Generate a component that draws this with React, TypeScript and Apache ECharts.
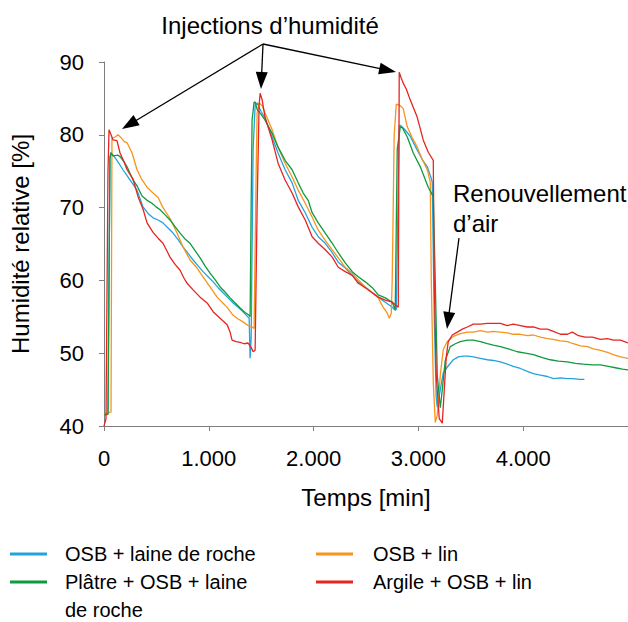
import React, { useEffect, useRef } from "react";
import * as echarts from "echarts";

// Time [min], relative humidity [%]
const osbLaineDeRoche: [number, number][] = [
  [0, 41.6], [38, 41.7], [57, 77.0], [67, 77.6], [124, 76.5], [181, 75.2], [248, 73.8], [315, 72.4],
  [372, 70.1], [420, 69.2], [468, 68.6], [516, 68.3], [563, 67.9], [611, 67.2], [659, 66.5], [707, 65.6],
  [754, 64.6], [802, 63.7], [850, 62.8], [898, 62.0], [945, 61.2], [993, 60.5], [1041, 59.8], [1089, 59.0],
  [1136, 58.3], [1184, 57.6], [1232, 56.9], [1280, 56.3], [1327, 55.7], [1366, 55.1], [1385, 54.8],
  [1394, 49.3], [1404, 52.0], [1423, 78.0], [1442, 84.0], [1461, 84.4], [1499, 83.2], [1537, 82.3],
  [1604, 79.7], [1661, 77.5], [1728, 75.2], [1795, 73.4], [1853, 71.0], [1920, 69.3], [1986, 67.3],
  [2044, 66.0], [2111, 65.1], [2178, 63.8], [2235, 62.5], [2302, 61.7], [2369, 60.7], [2426, 59.8],
  [2493, 59.1], [2560, 58.3], [2617, 57.7], [2684, 57.0], [2751, 56.3], [2779, 55.9], [2789, 56.0],
  [2817, 81.3], [2827, 81.3], [2865, 80.8], [2922, 79.8], [2989, 77.9], [3037, 76.6], [3085, 75.6],
  [3123, 74.0], [3132, 73.5], [3151, 55.0], [3170, 44.0], [3180, 42.6], [3209, 45.0], [3237, 47.3],
  [3276, 48.1], [3333, 49.1], [3381, 49.5], [3428, 49.6], [3476, 49.6], [3524, 49.5], [3591, 49.3],
  [3658, 49.1], [3715, 49.0], [3782, 48.8], [3849, 48.5], [3906, 48.2], [3973, 47.9], [4040, 47.5],
  [4097, 47.2], [4164, 47.0], [4231, 46.8], [4288, 46.5], [4355, 46.6], [4422, 46.5], [4479, 46.5],
  [4536, 46.4], [4584, 46.4],
];

const osbLin: [number, number][] = [
  [0, 41.5], [29, 41.8], [67, 41.9], [76, 79.5], [105, 79.7], [134, 80.0], [163, 79.6], [191, 79.1],
  [220, 78.9], [268, 77.5], [315, 75.2], [363, 73.8], [411, 72.8], [468, 72.0], [516, 71.4], [563, 70.0],
  [630, 68.5], [697, 66.5], [754, 64.6], [821, 62.8], [888, 61.7], [945, 60.5], [1012, 59.1], [1079, 57.7],
  [1127, 57.0], [1175, 56.3], [1232, 55.2], [1280, 54.7], [1327, 54.3], [1375, 53.8], [1413, 53.6],
  [1432, 53.4], [1452, 75.0], [1461, 83.0], [1480, 84.4], [1509, 84.0], [1537, 83.0], [1604, 80.7],
  [1661, 78.3], [1728, 76.1], [1795, 74.2], [1853, 72.4], [1920, 70.6], [1986, 68.7], [2044, 66.9],
  [2111, 65.5], [2178, 64.2], [2235, 63.1], [2302, 61.8], [2369, 61.0], [2426, 60.1], [2493, 59.1],
  [2560, 58.3], [2617, 57.6], [2664, 56.3], [2703, 55.5], [2722, 54.8], [2741, 55.5], [2750, 60.0],
  [2769, 80.0], [2789, 84.2], [2827, 84.0], [2855, 83.6], [2894, 81.1], [2941, 79.6], [2989, 78.3],
  [3037, 76.6], [3085, 75.2], [3113, 73.5], [3123, 60.0], [3142, 46.0], [3161, 40.5], [3180, 41.5],
  [3209, 47.0], [3237, 50.5], [3276, 51.6], [3333, 52.3], [3400, 52.7], [3467, 52.9], [3524, 52.9],
  [3591, 53.1], [3658, 52.9], [3715, 53.0], [3782, 52.9], [3849, 52.8], [3906, 52.6], [3973, 52.6],
  [4040, 52.4], [4097, 52.5], [4164, 52.2], [4231, 52.0], [4288, 51.9], [4355, 51.7], [4422, 51.6],
  [4479, 51.3], [4546, 51.0], [4613, 50.9], [4670, 50.6], [4737, 50.4], [4804, 50.1], [4861, 49.8],
  [4928, 49.5], [5000, 49.3],
];

const platreOsbLaineDeRoche: [number, number][] = [
  [0, 41.5], [38, 41.6], [57, 76.8], [67, 77.5], [86, 77.1], [134, 77.2], [153, 77.0], [191, 76.3],
  [220, 75.6], [277, 73.8], [315, 73.0], [363, 71.6], [411, 71.0], [458, 70.6], [497, 70.1], [535, 69.7],
  [583, 69.0], [630, 68.3], [678, 67.4], [726, 66.5], [773, 65.7], [821, 65.1], [869, 64.1], [917, 63.1],
  [964, 62.0], [1012, 61.0], [1060, 60.1], [1108, 59.1], [1155, 58.4], [1203, 57.6], [1251, 56.9],
  [1299, 56.2], [1346, 55.6], [1385, 55.2], [1394, 55.0], [1404, 70.0], [1413, 82.0], [1432, 84.5],
  [1442, 84.5], [1461, 83.5], [1499, 82.8], [1537, 82.0], [1604, 80.2], [1661, 78.3], [1728, 76.5],
  [1795, 75.2], [1853, 73.4], [1901, 72.0], [1948, 71.0], [1986, 69.3], [2044, 67.9], [2111, 66.5],
  [2178, 65.1], [2235, 63.8], [2302, 62.4], [2369, 61.2], [2426, 60.5], [2493, 59.8], [2560, 59.0],
  [2617, 58.0], [2684, 57.6], [2751, 57.0], [2769, 56.3], [2779, 56.0], [2798, 78.0], [2827, 81.1],
  [2846, 81.0], [2894, 79.7], [2951, 77.5], [3018, 75.6], [3094, 72.8], [3142, 71.5], [3161, 60.0],
  [3180, 47.0], [3209, 42.5], [3228, 45.0], [3256, 49.0], [3304, 50.9], [3352, 51.3], [3400, 51.6],
  [3467, 51.8], [3524, 51.8], [3591, 51.6], [3658, 51.3], [3715, 51.1], [3782, 50.9], [3858, 50.6],
  [3944, 50.2], [4021, 50.0], [4097, 49.8], [4183, 49.4], [4259, 49.1], [4336, 48.9], [4422, 48.8],
  [4498, 48.6], [4574, 48.5], [4660, 48.4], [4737, 48.4], [4813, 48.2], [4880, 48.0], [4947, 47.8],
  [5000, 47.7],
];

const argileOsbLin: [number, number][] = [
  [0, 40.0], [19, 41.0], [38, 75.0], [48, 80.7], [67, 80.0], [86, 79.3], [124, 79.2], [153, 77.5],
  [191, 76.3], [220, 75.2], [277, 73.9], [325, 71.5], [372, 69.8], [411, 67.9], [468, 66.6], [516, 65.8],
  [563, 65.1], [602, 64.0], [630, 63.2], [678, 62.2], [726, 61.4], [764, 60.3], [793, 59.6], [850, 58.7],
  [917, 57.7], [984, 56.9], [1041, 55.7], [1108, 54.8], [1175, 53.9], [1203, 52.9], [1222, 51.8],
  [1261, 51.6], [1299, 51.5], [1337, 51.3], [1375, 51.4], [1404, 50.8], [1423, 50.2], [1442, 50.4],
  [1461, 70.0], [1480, 84.0], [1490, 85.7], [1509, 84.8], [1537, 82.4], [1604, 79.3], [1661, 76.1],
  [1728, 73.8], [1795, 72.0], [1853, 70.1], [1920, 68.3], [1986, 66.0], [2044, 65.1], [2111, 64.2],
  [2178, 63.2], [2235, 61.8], [2302, 61.2], [2369, 60.7], [2426, 59.6], [2493, 59.0], [2560, 58.3],
  [2617, 57.7], [2684, 57.3], [2751, 57.0], [2808, 56.3], [2817, 88.6], [2836, 87.8], [2855, 87.1],
  [2884, 86.3], [2922, 84.8], [2989, 82.4], [3046, 79.3], [3094, 77.6], [3142, 76.5], [3151, 60.0],
  [3170, 47.0], [3199, 41.0], [3228, 40.4], [3247, 45.0], [3266, 49.5], [3285, 51.6], [3323, 52.5],
  [3371, 52.9], [3419, 53.3], [3467, 53.6], [3524, 54.0], [3591, 54.0], [3658, 54.1], [3715, 54.1],
  [3782, 54.1], [3849, 53.8], [3906, 54.0], [3973, 53.8], [4040, 53.6], [4097, 53.6], [4164, 53.3],
  [4231, 53.3], [4288, 53.0], [4355, 52.6], [4422, 52.6], [4469, 52.9], [4527, 52.4], [4593, 52.2],
  [4660, 52.2], [4737, 51.9], [4804, 52.0], [4861, 51.8], [4928, 51.8], [5000, 51.4],
];

const seriesNames = [
  "OSB + laine de roche",
  "OSB + lin",
  "Plâtre + OSB + laine de roche",
  "Argile + OSB + lin",
];
const seriesColors = ["#24a2dd", "#f7941d", "#0f9a3e", "#e52521"];
const seriesData = [osbLaineDeRoche, osbLin, platreOsbLaineDeRoche, argileOsbLin];

const xAxisName = "Temps [min]";
const yAxisName = "Humidité relative [%]";
const injectionLabel = "Injections d’humidité";
const renewalLabel = "Renouvellement\nd’air";

const FONT = "'Liberation Sans', Arial, Helvetica, sans-serif";

function arrow(x1: number, y1: number, x2: number, y2: number, len = 17, hw = 6) {
  const dx = x2 - x1;
  const dy = y2 - y1;
  const L = Math.hypot(dx, dy);
  const ux = dx / L;
  const uy = dy / L;
  const bx = x2 - ux * len;
  const by = y2 - uy * len;
  return [
    {
      type: "line",
      silent: true,
      z: 100,
      shape: { x1, y1, x2: bx + ux * 2, y2: by + uy * 2 },
      style: { stroke: "#000", lineWidth: 1.3 },
    },
    {
      type: "polygon",
      silent: true,
      z: 100,
      shape: {
        points: [
          [x2, y2],
          [bx - uy * hw, by + ux * hw],
          [bx + uy * hw, by - ux * hw],
        ],
      },
      style: { fill: "#000" },
    },
  ];
}

export default function App() {
  const ref = useRef<HTMLDivElement>(null);

  useEffect(() => {
    if (!ref.current) return;
    const chart = echarts.init(ref.current, undefined, { renderer: "svg" });

    const legendText = {
      fontFamily: FONT,
      fontSize: 20,
      color: "#000",
      lineHeight: 28,
    };
    const legendCommon = {
      orient: "vertical",
      padding: 0,
      itemGap: 0,
      itemWidth: 37,
      itemHeight: 3,
      icon: "rect",
      selectedMode: false,
      textStyle: legendText,
    };

    const option: any = {
      animation: false,
      backgroundColor: "#fff",
      textStyle: { fontFamily: FONT },
      grid: { left: 104, right: 0, top: 62, bottom: 196, containLabel: false },
      xAxis: {
        type: "value",
        min: 0,
        max: 5000,
        interval: 1000,
        name: xAxisName,
        nameLocation: "middle",
        nameGap: 59,
        nameTextStyle: { fontFamily: FONT, fontSize: 24, color: "#000" },
        axisLine: { show: true, lineStyle: { color: "#7f7f7f", width: 1 } },
        axisTick: { show: true, length: 5, lineStyle: { color: "#7f7f7f" } },
        splitLine: { show: false },
        axisLabel: {
          fontFamily: FONT,
          fontSize: 22,
          color: "#000",
          margin: 21,
          showMaxLabel: false,
          formatter: (v: number) =>
            v === 0 ? "0" : `${Math.floor(v / 1000)}.${String(v % 1000).padStart(3, "0")}`,
        },
      },
      yAxis: {
        type: "value",
        min: 40,
        max: 90,
        interval: 10,
        name: yAxisName,
        nameLocation: "middle",
        nameGap: 72,
        nameTextStyle: { fontFamily: FONT, fontSize: 24, color: "#000" },
        axisLine: { show: true, lineStyle: { color: "#7f7f7f", width: 1 } },
        axisTick: { show: true, length: 5, lineStyle: { color: "#7f7f7f" } },
        splitLine: { show: false },
        axisLabel: { fontFamily: FONT, fontSize: 22, color: "#000", margin: 20 },
      },
      legend: [
        {
          ...legendCommon,
          left: 10,
          top: 540,
          data: [{ name: seriesNames[0], textStyle: { padding: [0, 0, 0, 13] } }],
        },
        {
          ...legendCommon,
          left: 10,
          top: 540,
          formatter: (name: string) =>
            name === seriesNames[2] ? "\nPlâtre + OSB + laine\nde roche" : name,
          data: [{ name: seriesNames[2], textStyle: { padding: [0, 0, 0, 13] } }],
        },
        {
          ...legendCommon,
          left: 316,
          top: 540,
          data: [
            { name: seriesNames[1], textStyle: { padding: [0, 0, 0, 15] } },
            { name: seriesNames[3], textStyle: { padding: [0, 0, 0, 15] } },
          ],
        },
      ],
      series: seriesNames.map((name, i) => ({
        name,
        type: "line",
        data: seriesData[i],
        symbol: "none",
        showSymbol: false,
        color: seriesColors[i],
        itemStyle: { color: seriesColors[i] },
        lineStyle: { width: 1.3, color: seriesColors[i] },
        z: 2 + i,
      })),
      graphic: [
        {
          type: "text",
          silent: true,
          x: 270,
          y: 25,
          style: {
            text: injectionLabel,
            fontFamily: FONT,
            fontSize: 24,
            fill: "#000",
            align: "center",
            verticalAlign: "middle",
          },
        },
        {
          type: "text",
          silent: true,
          x: 453,
          y: 178,
          style: {
            text: renewalLabel,
            fontFamily: FONT,
            fontSize: 24,
            lineHeight: 30,
            fill: "#000",
            align: "left",
            verticalAlign: "top",
          },
        },
        ...arrow(263, 44, 122, 129),
        ...arrow(263, 44, 261, 89),
        ...arrow(263, 44, 396, 72),
        ...arrow(459, 238, 447, 329),
      ],
    };

    chart.setOption(option);
    return () => chart.dispose();
  }, []);

  return (
    <div
      ref={ref}
      style={{ position: "fixed", left: 0, top: 0, width: 628, height: 622, background: "#fff" }}
    />
  );
}
